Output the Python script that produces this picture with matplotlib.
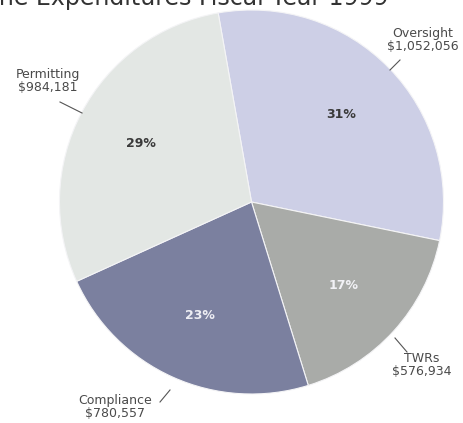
import matplotlib
matplotlib.use("Agg")
import matplotlib.pyplot as plt

# program spending by activity, FY 1999
categories = ["Oversight", "TWRs", "Compliance", "Permitting"]
amounts = [1052056, 576934, 780557, 984181]
colors = ["#cdcfe6", "#a9aba8", "#7b809f", "#e3e7e4"]
pct_colors = ["#3a3a3a", "#f2f2f6", "#eeeef4", "#3a3a3a"]

W, H = 463, 423
fig = plt.figure(figsize=(W / 100, H / 100), dpi=100)
ax = fig.add_axes([0, 0, 1, 1])

cx, cy, r = 251.5, H - 202, 192
wedges, texts, autotexts = ax.pie(
    amounts, colors=colors, startangle=100, counterclock=False,
    center=(cx, cy), radius=r, autopct="%1.0f%%", pctdistance=0.65,
    wedgeprops=dict(edgecolor="#f4f4f6", linewidth=0.8),
    textprops=dict(fontsize=9, fontweight="bold"))
for t, c in zip(autotexts, pct_colors):
    t.set_color(c)

ax.set_xlim(0, W)
ax.set_ylim(0, H)
ax.set_aspect("equal")
ax.axis("off")

# outside labels: (text x, text y, leader start, leader end) in pixel coords from top
lab = {
    "Oversight": (423, 40, (400, 60), (390, 70)),
    "TWRs": (422, 365, (395, 338), (407, 352)),
    "Compliance": (115, 407, (170, 390), (160, 402)),
    "Permitting": (48, 81, (60, 102), (82, 113)),
}
for name, amt in zip(categories, amounts):
    tx, ty, p0, p1 = lab[name]
    ax.text(tx, H - ty, f"{name}\n${amt:,}", ha="center", va="center",
            fontsize=9, color="#4a4a4a", linespacing=1.0)
    ax.plot([p0[0], p1[0]], [H - p0[1], H - p1[1]], color="#555555", lw=0.8)

ax.text(389, H - 5, "Routine Expenditures Fiscal Year 1999", ha="right",
        va="baseline", fontsize=17, color="#333333", clip_on=False)

fig.savefig("out.png", dpi=100, facecolor="white")
